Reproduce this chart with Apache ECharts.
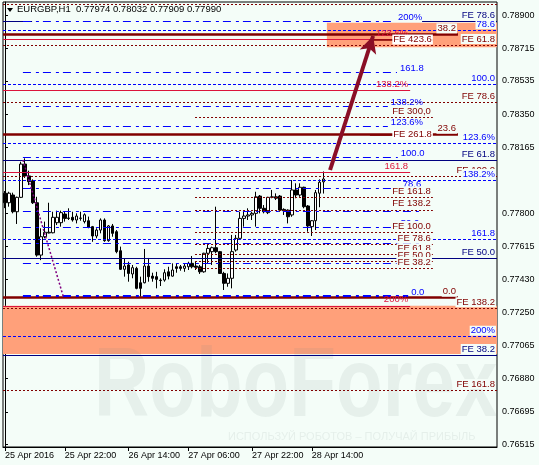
<!DOCTYPE html>
<html>
<head>
<meta charset="utf-8">
<title>EURGBP H1</title>
<script src="https://cdn.jsdelivr.net/npm/echarts@6.0.0/dist/echarts.min.js"></script>
<style>
html,body{margin:0;padding:0;background:#f4fdf8;}
#chart{width:539px;height:465px;}
</style>
</head>
<body>
<div id="chart"></div>
<script>
// ---------------- data ----------------
const symbolName = 'EURGBP,H1';
const timeLabels = ['25 Apr 2016', '25 Apr 22:00', '26 Apr 14:00', '27 Apr 06:00', '27 Apr 22:00', '28 Apr 14:00'];
const timeLabelBars = [0, 15, 31, 46, 62, 77];
const slotCount = 124;

const opens = [0.77911,0.77858,0.77901,0.77808,0.77888,0.78073,0.78007,0.77980,0.77858,0.77567,
0.77669,0.77690,0.77691,0.77747,0.77747,0.77795,0.77773,0.77777,0.77762,0.77771,
0.77753,0.77758,0.77725,0.77673,0.77706,0.77762,0.77647,0.77729,0.77697,0.77591,
0.77488,0.77512,0.77462,0.77493,0.77413,0.77413,0.77506,0.77450,0.77447,0.77428,
0.77428,0.77474,0.77450,0.77502,0.77502,0.77493,0.77502,0.77521,0.77506,0.77502,
0.77474,0.77577,0.77586,0.77608,0.77586,0.77465,0.77410,0.77438,0.77595,0.77660,
0.77771,0.77784,0.77790,0.77799,0.77895,0.77827,0.77803,0.77888,0.77891,0.77895,
0.77821,0.77817,0.77790,0.77929,0.77901,0.77944,0.77840,0.77725,0.77758,0.77911,
0.77974];
const closes = [0.77858,0.77911,0.77808,0.77888,0.78073,0.78007,0.77975,0.77858,0.77567,0.77669,
0.77694,0.77694,0.77777,0.77777,0.77803,0.77771,0.77771,0.77762,0.77784,0.77773,
0.77791,0.77721,0.77673,0.77706,0.77762,0.77647,0.77729,0.77688,0.77586,0.77488,
0.77506,0.77465,0.77497,0.77382,0.77382,0.77506,0.77447,0.77438,0.77432,0.77425,
0.77469,0.77450,0.77484,0.77493,0.77493,0.77506,0.77521,0.77502,0.77499,0.77474,
0.77577,0.77604,0.77608,0.77586,0.77465,0.77410,0.77438,0.77586,0.77660,0.77771,
0.77784,0.77790,0.77799,0.77891,0.77827,0.77808,0.77888,0.77891,0.77883,0.77817,
0.77814,0.77780,0.77929,0.77901,0.77944,0.77836,0.77729,0.77758,0.77914,0.77972,
0.77990];
const lows = [0.77828,0.77836,0.77799,0.77740,0.77884,0.77996,0.77956,0.77851,0.77558,0.77539,
0.77660,0.77688,0.77688,0.77734,0.77725,0.77753,0.77762,0.77753,0.77743,0.77758,
0.77743,0.77716,0.77641,0.77660,0.77688,0.77641,0.77641,0.77669,0.77577,0.77484,
0.77447,0.77419,0.77438,0.77377,0.77335,0.77410,0.77419,0.77419,0.77382,0.77395,
0.77419,0.77432,0.77447,0.77469,0.77480,0.77474,0.77484,0.77493,0.77484,0.77462,
0.77469,0.77521,0.77512,0.77577,0.77462,0.77373,0.77391,0.77382,0.77586,0.77651,
0.77725,0.77762,0.77762,0.77725,0.77799,0.77799,0.77795,0.77883,0.77873,0.77808,
0.77790,0.77743,0.77780,0.77883,0.77891,0.77827,0.77697,0.77673,0.77706,0.77833,
0.77909];
const highs = [0.77923,0.77919,0.77914,0.77892,0.78086,0.78105,0.78036,0.77988,0.77891,0.77716,
0.77753,0.77858,0.77808,0.77814,0.77814,0.77808,0.77827,0.77808,0.77799,0.77808,
0.77799,0.77781,0.77729,0.77716,0.77771,0.77771,0.77734,0.77740,0.77706,0.77614,
0.77549,0.77530,0.77512,0.77502,0.77447,0.77601,0.77551,0.77469,0.77474,0.77438,
0.77488,0.77502,0.77521,0.77521,0.77512,0.77521,0.77530,0.77562,0.77530,0.77512,
0.77580,0.77632,0.77614,0.77836,0.77590,0.77474,0.77465,0.77679,0.77679,0.77808,
0.77817,0.77827,0.77808,0.77919,0.77901,0.77845,0.77891,0.77929,0.77910,0.77901,
0.77827,0.77821,0.77984,0.77966,0.77966,0.77947,0.77845,0.77762,0.77929,0.77988,
0.78032];

const priceTicks = [0.78900,0.78715,0.78535,0.78350,0.78165,0.77800,0.77615,0.77430,0.77250,0.77065,0.76880,0.76695,0.76515];
const lastPrice = 0.77990;

// Fibonacci / expansion levels (prices)
const blueDotLevels = [0.78817, 0.78516, 0.78188, 0.77984, 0.77654, 0.77113];
const blueDotTexts  = ['78.6', '100.0', '123.6%', '138.2%', '161.8', '200%'];
const blueDashLevels = [0.78868, 0.78581, 0.78392, 0.78284, 0.78112, 0.77938, 0.77810, 0.77721, 0.77632, 0.77521, 0.77339];
const blueDashTexts  = ['200%', '161.8', '138.2%', '123.6%', '100.0', '78.6', '', '50.0', '', '', '0.0'];
const blueDashEnds   = [97.9, 98.4, 96.1, 96.1, 98.6, 99.1, 104, 98.6, 104, 104, 101.2];
const navyLevels = [0.78094, 0.77549, 0.77011];
const navyTexts  = ['FE 61.8', 'FE 50.0', 'FE 38.2'];
const navyTopLevel = 0.78868;
const navyTopText = 'FE 78.6';
const redDotLevels = [0.78963, 0.78735, 0.78416, 0.78006, 0.77271, 0.76817];
const redDotTexts  = ['', 'FE 61.8', 'FE 78.6', 'FE 100.0', 'FE 138.2', 'FE 161.8'];
const feLevels = [0.78333, 0.77888, 0.77819, 0.77695, 0.77627, 0.77571, 0.77534, 0.77495];
const feTexts  = ['FE 300,0', 'FE 161.8', 'FE 138.2', 'FE 100.0', 'FE 78.6', 'FE 61.8', 'FE 50.0', 'FE 38.2'];
const thickLevels = [0.78794, 0.78236, 0.77330];
const thickTexts  = ['38.2', '23.6', '0.0'];
const boxedLevels = [0.78765, 0.78236];
const boxedTexts  = ['FE 423.6', 'FE 261.8'];
const crimsonLevels = [0.78768, 0.78485, 0.78027, 0.77285];
const crimsonTexts  = ['123.6%', '138.2%', '161.8', '200%'];
const zoneTop = [0.78859, 0.78722];
const zoneBottom = [0.77285, 0.77017];
const trendFrom = [4.5, 0.78096], trendTo = [14.6, 0.77339];   // [bar, price]
const arrowFrom = [81.6, 0.78040], arrowTo = [92.4, 0.78785]; // [bar, price]

// ---------------- styles ----------------
const BG = '#f4fdf8';
const FONT = 'Liberation Sans';
const BLUE = '#0000ff', NAVY = '#000080', MAROON = '#800000', CRIMSON = '#dc143c';
const S_BLUE_DOT = {color: BLUE, type: [3, 2], width: 1};
const S_BLUE_DASH = {color: BLUE, type: [8, 5, 3, 4], width: 1};
const S_NAVY = {color: NAVY, type: 'solid', width: 1};
const S_RED_DOT = {color: MAROON, type: [2, 2], width: 1};
const S_RED_THICK = {color: MAROON, type: 'solid', width: 2.5};
const S_CRIMSON = {color: CRIMSON, type: 'solid', width: 1};
const X_L = -0.5, X_R = slotCount - 0.5, X_FIB = 4.5, X_FE = 47.7, X_FE_END = 107.4;

function lbl(text, color, position, extra) {
  if (!text) return {show: false};
  return Object.assign({show: true, formatter: text, position: position, color: color,
    fontSize: 9.5, fontFamily: FONT, distance: 1, padding: [0, 1, 0, 1]}, extra || {});
}
function seg(x1, x2, price, style, label) {
  return [{coord: [x1, price], lineStyle: style, label: label || {show: false}, symbol: 'none'},
          {coord: [x2, price], symbol: 'none'}];
}
function full(price, style, label) { return seg(X_L, X_R, price, style, label); }

const lines = [];
redDotLevels.forEach((p, i) => lines.push(full(p, S_RED_DOT, lbl(redDotTexts[i], MAROON, 'insideEndTop', {backgroundColor: BG}))));
crimsonLevels.forEach((p, i) => lines.push(seg(X_L, 101.7, p, S_CRIMSON, lbl(crimsonTexts[i], CRIMSON, 'insideEndTop'))));
thickLevels.forEach((p, i) => lines.push(seg(X_L, 113.7, p, S_RED_THICK, lbl(thickTexts[i], MAROON, 'insideEndTop', {backgroundColor: BG}))));
navyLevels.forEach((p, i) => lines.push(full(p, S_NAVY, lbl(navyTexts[i], NAVY, 'insideEndTop', {backgroundColor: BG}))));
lines.push(seg(X_L, 6.8, navyTopLevel, S_NAVY));
lines.push(seg(104.7, X_R, navyTopLevel, S_NAVY, lbl(navyTopText, NAVY, 'insideEndTop')));
blueDashLevels.forEach((p, i) => lines.push(seg(X_FIB, blueDashEnds[i], p,
  i === blueDashLevels.length - 1 ? Object.assign({}, S_BLUE_DASH, {width: 2}) : S_BLUE_DASH,
  lbl(blueDashTexts[i], BLUE, 'end', {offset: [0, -4], distance: 2}))));
feLevels.forEach((p, i) => lines.push(seg(X_FE, X_FE_END, p, S_RED_DOT, lbl(feTexts[i], MAROON, 'insideEndTop', {backgroundColor: BG}))));
boxedLevels.forEach((p, i) => lines.push(seg(91.6, X_FE_END, p, {color: MAROON, width: 1.5, type: 'solid'},
  lbl(boxedTexts[i], MAROON, 'insideEnd', {backgroundColor: '#ffffff', distance: 0}))));
blueDotLevels.forEach((p, i) => lines.push(full(p, S_BLUE_DOT, lbl(blueDotTexts[i], BLUE, 'insideEndTop', {backgroundColor: BG}))));
// trend line and arrow
lines.push([{coord: trendFrom, symbol: 'none', lineStyle: {color: '#800080', type: [2, 2], width: 1.5}, label: {show: false}},
            {coord: trendTo, symbol: 'none'}]);
lines.push([{coord: arrowFrom, symbol: 'none', lineStyle: {color: '#8a0f26', type: 'solid', width: 4}, label: {show: false}},
            {coord: arrowTo, symbol: 'arrow', symbolSize: [13, 17]}]);

const candleData = opens.map((o, i) => [o, closes[i], lows[i], highs[i]]);
const slots = Array.from({length: slotCount}, (_, i) => String(i));
const last = opens.length - 1;
const titleText = symbolName + '  ' + opens[last].toFixed(5) + ' ' + highs[last].toFixed(5) + ' ' +
                  lows[last].toFixed(5) + ' ' + closes[last].toFixed(5);

const chart = echarts.init(document.getElementById('chart'), null, {renderer: 'canvas'});
chart.setOption({
  animation: false,
  backgroundColor: BG,
  textStyle: {fontFamily: FONT},
  title: {text: titleText, left: 17, top: 4, padding: 0,
          textStyle: {fontSize: 9.5, fontWeight: 'normal', color: '#000', fontFamily: FONT}},
  graphic: {elements: [
    {type: 'polygon', z: 10, shape: {points: [[7, 8], [13, 8], [10, 12]]}, style: {fill: '#000'}},
    {type: 'text', z: 2, left: 94, top: 340, scaleX: 0.78,
     style: {text: 'RoboForex', font: 'bold 98px "Liberation Sans"', fill: 'rgba(120,140,140,0.11)'}},
    {type: 'text', z: 2, left: 228, top: 431,
     style: {text: 'ИСПОЛЬЗУЙ РОБОТОВ – ПОЛУЧАЙ ПРИБЫЛЬ', font: '11px "Liberation Sans"', fill: 'rgba(120,140,140,0.12)'}}
  ]},
  grid: {left: 3, right: 42, top: 2, bottom: 18, show: true, borderColor: '#000', borderWidth: 1,
         backgroundColor: 'transparent'},
  xAxis: [{
    type: 'category', data: slots, boundaryGap: true, gridIndex: 0,
    axisLine: {show: true, lineStyle: {color: '#000', width: 1}},
    axisTick: {show: true, alignWithLabel: true, length: 4, lineStyle: {color: '#000'},
               interval: (idx) => timeLabelBars.indexOf(idx) >= 0},
    axisLabel: {show: true, interval: (idx) => timeLabelBars.indexOf(idx) >= 0, align: 'left', margin: 4,
                fontSize: 9, fontFamily: FONT, color: '#000',
                formatter: (v) => timeLabels[timeLabelBars.indexOf(Number(v))] || ''},
    splitLine: {show: false}
  }, {
    type: 'value', gridIndex: 0, min: X_L, max: X_R, show: false
  }],
  yAxis: {
    type: 'value', position: 'right', min: 0.76500, max: 0.78974, scale: true,
    axisLine: {show: true, lineStyle: {color: '#000'}},
    axisTick: {show: true, length: 3, inside: false, customValues: priceTicks, lineStyle: {color: '#000'}},
    axisLabel: {show: true, customValues: priceTicks, margin: 5, fontSize: 9, fontFamily: FONT, color: '#000',
                formatter: (v) => v.toFixed(5)},
    splitLine: {show: false}
  },
  series: [{
    type: 'line', xAxisIndex: 1, yAxisIndex: 0, data: [], z: 1, silent: true,
    markArea: {silent: true, itemStyle: {color: '#ffa07a'},
      data: [[{coord: [80.8, zoneTop[0]]}, {coord: [X_R, zoneTop[1]]}],
             [{coord: [X_L, zoneBottom[0]]}, {coord: [X_R, zoneBottom[1]]}]]}
  }, {
    type: 'line', xAxisIndex: 1, yAxisIndex: 0, data: [], z: 3, silent: true,
    markLine: {silent: true, symbol: ['none', 'none'], animation: false, data: lines}
  }, {
    type: 'candlestick', xAxisIndex: 0, yAxisIndex: 0, data: candleData, z: 4, barWidth: 3,
    itemStyle: {color: '#ffffff', color0: '#000000', borderColor: '#000000', borderColor0: '#000000', borderWidth: 1},
    markLine: {silent: true, symbol: ['none', 'none'], animation: false,
      data: [{yAxis: lastPrice, lineStyle: {opacity: 0},
              label: {show: true, position: 'end', formatter: lastPrice.toFixed(5), color: '#fff',
                      backgroundColor: '#000', padding: [2, 2, 1, 2], distance: 1, fontSize: 9, fontFamily: FONT}}]}
  }]
});
</script>
</body>
</html>
